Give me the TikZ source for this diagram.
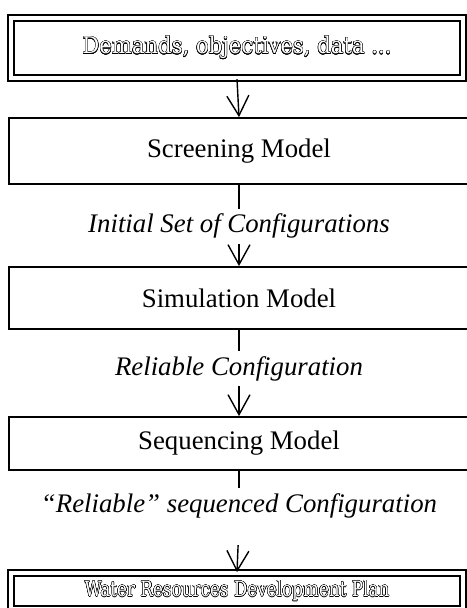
\documentclass[tikz,border=0pt]{standalone}
\usepackage{fontspec}
\setmainfont{Liberation Serif}
\newfontfamily\outlinefont[FakeStretch=0.92]{DejaVu Serif}
\newfontfamily\narrowoutline[FakeStretch=0.8]{DejaVu Serif}
\usepackage{xcolor}
\usepackage{contour}
\contourlength{0.2pt}
\usepackage{tikz}
\usetikzlibrary{arrows.meta,positioning}

% hollow (outlined) lettering of the two end boxes
\newcommand{\hollow}[1]{\textcolor{white}{\contour{black}{#1}}}

\begin{document}
\begin{tikzpicture}[
    x=0.5pt, y=-0.5pt,
    font=\fontsize{13.4}{16}\selectfont,
    model/.style={rectangle, draw, line width=0.9pt, minimum width=230pt, inner sep=0pt},
    endbox/.style={rectangle, draw, line width=0.8pt, double, double distance=2.2pt, minimum width=226pt, inner sep=0pt},
    result/.style={font=\fontsize{13.4}{16}\selectfont\itshape, inner xsep=0pt, inner ysep=2.5pt},
    stub/.style={line width=0.7pt},
    arrow/.style={-{Straight Barb[length=10pt, width=11pt]}, line width=0.7pt}
]
    \useasboundingbox (0,0) rectangle (466,608);

    % Input
    \node[endbox, minimum height=30.25pt, font=\outlinefont\fontsize{11.5}{13}\selectfont] (demands) at (237,48) {\hollow{Demands, objectives, data ...}};

    % Models
    \node[model, minimum height=33pt] (screening) at (239,151) {Screening Model};
    \node[model, minimum height=31pt] (simulation) at (239,298) {Simulation Model};
    \node[model, minimum height=26.5pt] (sequencing) at (239,443.5) {Sequencing Model};

    % What passes between them
    \node[result, anchor=base] (initial) at (239,233) {Initial Set of Configurations};
    \node[result, anchor=base] (reliable) at (239,375) {Reliable Configuration};
    \node[result, anchor=base] (sequenced) at (239,512) {``Reliable'' sequenced Configuration};

    % Output
    \node[endbox, minimum height=18pt, font=\narrowoutline\fontsize{10.5}{12}\selectfont] (plan) at (237,591) {\hollow{Water Resources Development Plan}};

    % Flow
    \draw[arrow] (demands.south) -- (screening.north);
    \draw[stub] (screening.south) -- (initial.north);
    \draw[arrow] (initial.south) -- (simulation.north);
    \draw[stub] (simulation.south) -- (reliable.north);
    \draw[arrow] (reliable.south) -- (sequencing.north);
    \draw[stub] (sequencing.south) -- (sequenced.north);
    \draw[arrow, shorten <=11pt] (sequenced.south) -- (plan.north);

\end{tikzpicture}
\end{document}
